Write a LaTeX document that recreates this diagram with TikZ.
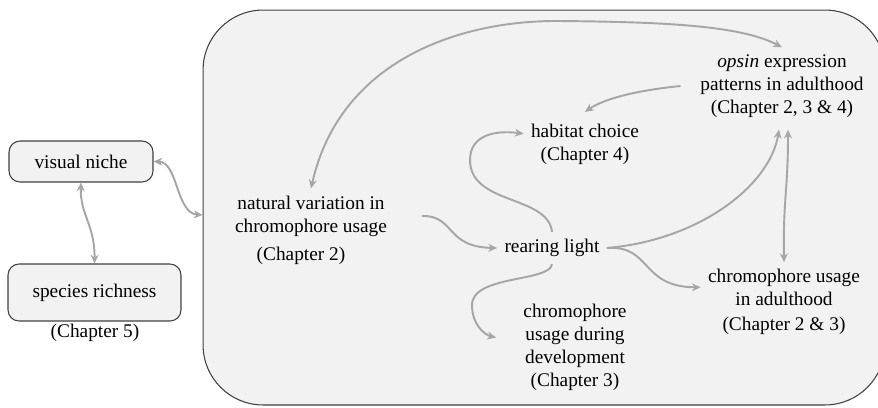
\documentclass[tikz,border=0pt]{standalone}
\usepackage{fontspec}
\setmainfont{Liberation Serif}
\usepackage{tikz}
\usetikzlibrary{arrows.meta}
\definecolor{boxfill}{HTML}{F2F2F2}
\definecolor{boxline}{HTML}{404040}
\definecolor{arrgray}{HTML}{A6A6A6}

\begin{document}
\begin{tikzpicture}[x=0.02cm,y=-0.02cm,font=\fontsize{11}{13}\selectfont]
\tikzset{box/.style = {shape=rectangle,draw=boxline,fill=boxfill,line width=0.6pt,rounded corners=0.22cm}}
\tikzset{txt/.style = {align=center,inner sep=4pt}}
\tikzset{edge/.style = {draw=arrgray,line width=1.1pt,-{Stealth[length=5pt,width=4.5pt]}}}
\tikzset{both/.style = {edge,{Stealth[length=5pt,width=4.5pt]}-{Stealth[length=5pt,width=4.5pt]}}}
\clip (0,0) rectangle (878,407);
% frame
\node[box,rounded corners=1.2cm,minimum width=13.64cm,minimum height=7.9cm] (frame) at (544,207.5) {};
% nodes
\node[box,minimum width=2.88cm,minimum height=0.82cm] (niche) at (81,161.5) {visual niche};
\node[box,minimum width=3.46cm,minimum height=1.14cm] (rich) at (94.5,292.5) {species richness};
\node[txt] (rich-ch) at (95,333) {(Chapter 5)};
\node[txt] (nat) at (311,216) {natural variation in\\chromophore usage};
\node[txt] (nat-ch) at (301,256) {(Chapter 2)};
\node[txt] (light) at (552,248) {rearing light};
\node[txt] (hab) at (585,144.5) {habitat choice\\(Chapter 4)};
\node[txt] (opsin) at (782,86) {\textit{opsin} expression\\patterns in adulthood\\(Chapter 2, 3 \& 4)};
\node[txt] (adult) at (784,302) {chromophore usage\\in adulthood\\[1pt](Chapter 2 \& 3)};
\node[txt] (dev) at (575,347.5) {chromophore\\usage during\\development\\(Chapter 3)};
%edges
\draw[both] (niche.east) .. controls (178,162) and (176,213) .. (frame.west |- 0,215);
\draw[both] (niche.south) .. controls (80,215) and (95,225) .. (rich.north);
\draw[edge] ([xshift=0.55cm]nat.east) .. controls (455,215) and (445,247) .. (light.west);
\draw[edge] (light.north) .. controls (548,195) and (470,205) .. (470,160) .. controls (470,135) and (495,130) .. (hab.170);
\draw[edge] ([xshift=-0.25cm]opsin.west) .. controls (640,90) and (605,98) .. ([yshift=0.1cm]hab.north);
\draw[edge] (light.east) .. controls (700,240) and (770,185) .. ([xshift=-0.06cm,yshift=-0.1cm]opsin.south);
\draw[both] ([xshift=0.12cm,yshift=-0.1cm]opsin.south) .. controls (788,190) and (783,200) .. (adult.north);
\draw[edge] (light.east) .. controls (652,245) and (640,287) .. (adult.170);
\draw[edge] (light.south) .. controls (550,282) and (472,275) .. (472,305) .. controls (472,325) and (485,335) .. ([xshift=-0.4cm,yshift=0.2cm]dev.west);
\draw[both] (nat.north) .. controls (340,60) and (460,20) .. (560,21) .. controls (660,22) and (740,25) .. (opsin.north);
\end{tikzpicture}
\end{document}
